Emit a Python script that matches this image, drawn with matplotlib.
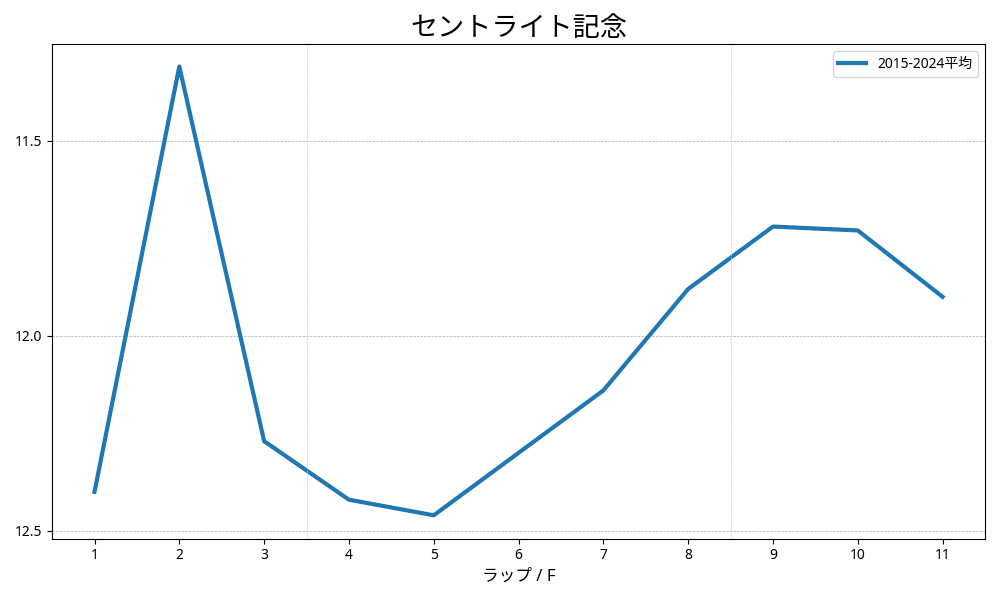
import matplotlib
matplotlib.use("Agg")
import matplotlib.pyplot as plt

plt.rcParams['font.family'] = ['Noto Sans', 'Noto Sans CJK JP', 'DejaVu Sans']

laps = [1, 2, 3, 4, 5, 6, 7, 8, 9, 10, 11]
avg = [12.40, 11.31, 12.27, 12.42, 12.46, 12.30, 12.14, 11.88, 11.72, 11.73, 11.90]
yticks = [11.5, 12.0, 12.5]
sections = [3.5, 8.5]

fig, ax = plt.subplots(figsize=(10, 6), dpi=100)
ax.plot(laps, avg, color='#1f77b4', linewidth=3, label='2015-2024平均')
ax.set_xticks(laps)
ax.set_yticks(yticks)
ax.set_xlim(0.5, 11.5)
ax.set_ylim(12.52, 11.253)
ax.grid(axis='y', linestyle='--', linewidth=0.5, color='#aaaaaa')
for s in sections:
    ax.axvline(s, linestyle='--', linewidth=0.5, color='#cccccc')
ax.set_title('セントライト記念', fontsize=19.5)
ax.set_xlabel('ラップ / F', fontsize=12)
ax.legend(loc='upper right')
fig.tight_layout()
fig.savefig('out.png')
